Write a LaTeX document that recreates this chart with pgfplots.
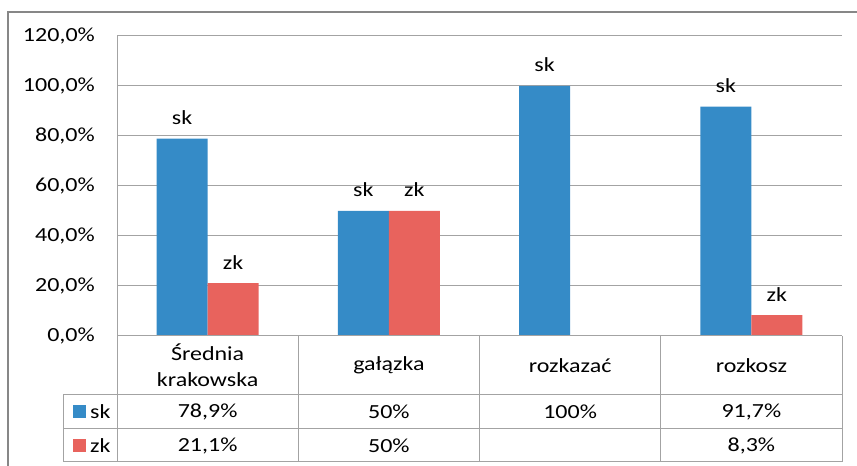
\documentclass[border=0pt]{standalone}
\usepackage{fontspec}
\setmainfont[FakeStretch=1.2]{Carlito}
\usepackage{pgfplots}
\pgfplotsset{compat=1.18}
\definecolor{skblue}{HTML}{358BC7}
\definecolor{zkred}{HTML}{E8635D}
\definecolor{gridgray}{HTML}{A3A3A3}
\definecolor{framegray}{HTML}{878787}
\begin{document}
\fontsize{20bp}{26bp}\selectfont
\begin{tikzpicture}[x=1bp,y=1bp]
\path[use as bounding box] (0,0) rectangle (857,466);
\draw[color=framegray, line width=1.6bp] (8,0) -- (8,454) -- (857,454);
\begin{axis}[
  at={(117bp,130bp)}, anchor=south west,
  scale only axis, width=725bp, height=300bp,
  xmin=-0.5, xmax=3.5, ymin=0, ymax=120,
  axis line style={draw=none},
  major tick length=0pt,
  xtick=\empty,
  ytick={0,20,40,60,80,100,120},
  yticklabels={{0,0\%},{20,0\%},{40,0\%},{60,0\%},{80,0\%},{100,0\%},{120,0\%}},
  yticklabel style={inner sep=0pt, xshift=-22bp},
  ymajorgrids,
  grid style={gridgray, line width=1bp},
  clip=false,
  every node near coord/.append style={anchor=base, inner sep=0pt, yshift=14bp, text=black},
]
\addplot[ybar, bar width=51bp, bar shift=-25.5bp, fill=skblue, draw=none,
  nodes near coords={sk},
  every node near coord/.append style={xshift=-25.5bp}] coordinates {(0,78.9) (1,50) (2,100) (3,91.7)};
\addplot[ybar, bar width=51bp, bar shift=25.5bp, fill=zkred, draw=none,
  nodes near coords={zk},
  every node near coord/.append style={xshift=25.5bp}] coordinates {(0,21.1) (1,50) (3,8.3)};
% table lines
\draw[gridgray, line width=1bp] (axis cs:-0.5,120) -- (axis cs:-0.5,-50.4);
\draw[gridgray, line width=1bp] (axis cs:-0.5,0) -- (axis cs:3.5,0);
\draw[gridgray, line width=1bp] ([xshift=-54bp]axis cs:-0.5,-23.6) -- (axis cs:3.5,-23.6);
\draw[gridgray, line width=1bp] ([xshift=-54bp]axis cs:-0.5,-37.2) -- (axis cs:3.5,-37.2);
\draw[gridgray, line width=1bp] ([xshift=-54bp]axis cs:-0.5,-50.4) -- (axis cs:3.5,-50.4);
\draw[gridgray, line width=1bp] ([xshift=-54bp]axis cs:-0.5,-23.6) -- ([xshift=-54bp]axis cs:-0.5,-50.4);
\draw[gridgray, line width=1bp] (axis cs:0.5,0) -- (axis cs:0.5,-50.4);
\draw[gridgray, line width=1bp] (axis cs:1.5,0) -- (axis cs:1.5,-50.4);
\draw[gridgray, line width=1bp] (axis cs:2.5,0) -- (axis cs:2.5,-50.4);
\draw[gridgray, line width=1bp] (axis cs:3.5,0) -- (axis cs:3.5,-50.4);
% category names
\node[align=center] at (axis cs:0,-11.8) {Średnia\\krakowska};
\node at (axis cs:1,-11.8) {gałązka};
\node at (axis cs:2,-11.8) {rozkazać};
\node at (axis cs:3,-11.8) {rozkosz};
% legend keys
\fill[skblue] ([xshift=-44.5bp,yshift=-6.5bp]axis cs:-0.5,-30.4) rectangle ++(13bp,13bp);
\fill[zkred] ([xshift=-44.5bp,yshift=-6.5bp]axis cs:-0.5,-43.8) rectangle ++(13bp,13bp);
\node[anchor=west, inner sep=0pt] at ([xshift=-27bp]axis cs:-0.5,-30.4) {sk};
\node[anchor=west, inner sep=0pt] at ([xshift=-27bp]axis cs:-0.5,-43.8) {zk};
% values
\node at (axis cs:0,-30.4) {78,9\%};
\node at (axis cs:1,-30.4) {50\%};
\node at (axis cs:2,-30.4) {100\%};
\node at (axis cs:3,-30.4) {91,7\%};
\node at (axis cs:0,-43.8) {21,1\%};
\node at (axis cs:1,-43.8) {50\%};
\node at (axis cs:3,-43.8) {8,3\%};
\end{axis}
\end{tikzpicture}
\end{document}
